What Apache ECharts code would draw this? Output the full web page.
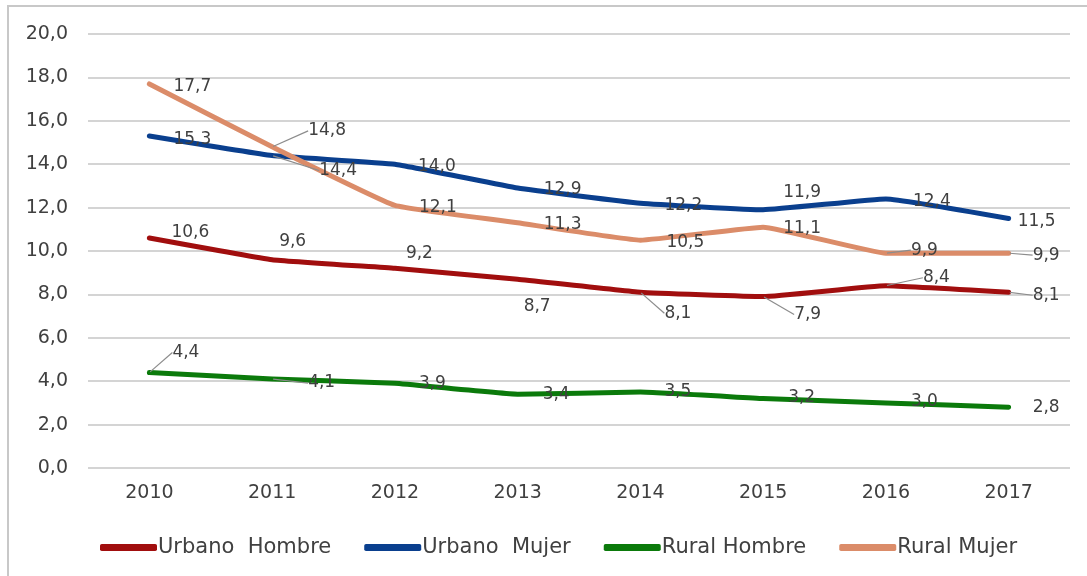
<!DOCTYPE html>
<html>
<head>
<meta charset="utf-8">
<script src="https://cdn.jsdelivr.net/npm/echarts@6/dist/echarts.min.js"></script>
<style>
html,body{margin:0;padding:0;background:#fff;overflow:hidden;width:1087px;height:576px;}
#frame{position:absolute;left:7px;top:5px;width:2000px;height:2000px;border-left:2px solid #c8c8c8;border-top:2px solid #c8c8c8;}
#chart{position:absolute;left:0;top:0;width:1087px;height:576px;}
</style>
</head>
<body>
<div id="frame"></div>
<div id="chart"></div>
<script>
const categories = ['2010','2011','2012','2013','2014','2015','2016','2017'];
const seriesNames = ['Urbano  Hombre','Urbano  Mujer','Rural Hombre','Rural Mujer'];
const urbanoHombre = [10.6, 9.6, 9.2, 8.7, 8.1, 7.9, 8.4, 8.1];
const urbanoMujer  = [15.3, 14.4, 14.0, 12.9, 12.2, 11.9, 12.4, 11.5];
const ruralHombre  = [4.4, 4.1, 3.9, 3.4, 3.5, 3.2, 3.0, 2.8];
const ruralMujer   = [17.7, 14.8, 12.1, 11.3, 10.5, 11.1, 9.9, 9.9];
const yTicks = [0, 20, 2];

// label placement (layout only)
const labelShift = [
  [[21,-5],[6,-18],[10,-15],[5,27],[23,21],[30,18],[36,-8],[23,3]],
  [[23,4],[46,15],[22,2],[25,2],[23,2],[19,-17],[26,3],[8,3]],
  [[22,-20],[35,4],[23,0],[24,0],[23,0],[24,-1],[24,-1],[23,0]],
  [[23,3],[35,-16],[23,2],[25,2],[25,2],[19,1],[24,-3],[23,2]]
];
const leaders = [
  [4,5,6,7],
  [1],
  [0,1],
  [1,6,7]
];
const colors = ['#A10E0E','#0A3F8E','#0B7A0B','#DB8C69'];
const FONT = 'DejaVu Sans';
const fmt = v => Number(v).toFixed(1).replace('.', ',');

const allValues = [urbanoHombre, urbanoMujer, ruralHombre, ruralMujer];

const series = allValues.map((vals, si) => ({
  name: seriesNames[si],
  type: 'line',
  smooth: 0.1,
  symbol: 'circle',
  symbolSize: 2,
  showSymbol: true,
  color: colors[si],
  lineStyle: {width: 5, color: colors[si], cap: 'round', join: 'round'},
  itemStyle: {color: colors[si]},
  emphasis: {disabled: true},
  data: vals.map((v, i) => ({
    value: v,
    labelLine: {show: leaders[si].includes(i)}
  })),
  label: {
    show: true,
    position: 'right',
    distance: 0,
    color: '#404040',
    fontFamily: FONT,
    fontSize: 17,
    formatter: p => fmt(p.value)
  },
  labelLine: {show: false, lineStyle: {color: '#8c8c8c', width: 1.2}},
  labelLayout: p => ({dx: labelShift[si][p.dataIndex][0], dy: labelShift[si][p.dataIndex][1]}),
  z: 2
}));

const chart = echarts.init(document.getElementById('chart'), null, {renderer: 'canvas'});
chart.setOption({
  animation: false,
  backgroundColor: 'transparent',
  grid: {left: 88, right: 17, top: 34, bottom: 108, containLabel: false},
  legend: {
    left: 95, top: 532,
    itemWidth: 57, itemHeight: 7, itemGap: 33,
    icon: 'roundRect',
    textStyle: {fontFamily: FONT, fontSize: 21, color: '#404040', padding: [0,0,0,-4]},
    data: seriesNames
  },
  xAxis: {
    type: 'category',
    data: categories,
    boundaryGap: true,
    axisLine: {show: false},
    axisTick: {show: false},
    axisLabel: {fontFamily: FONT, fontSize: 19, color: '#404040', margin: 16}
  },
  yAxis: {
    type: 'value',
    min: yTicks[0], max: yTicks[1], interval: yTicks[2],
    axisLine: {show: false},
    axisTick: {show: false},
    axisLabel: {fontFamily: FONT, fontSize: 19, color: '#404040', margin: 20, formatter: v => fmt(v)},
    splitLine: {lineStyle: {color: '#d4d4d4', width: 2}}
  },
  series: series
});
</script>
</body>
</html>
